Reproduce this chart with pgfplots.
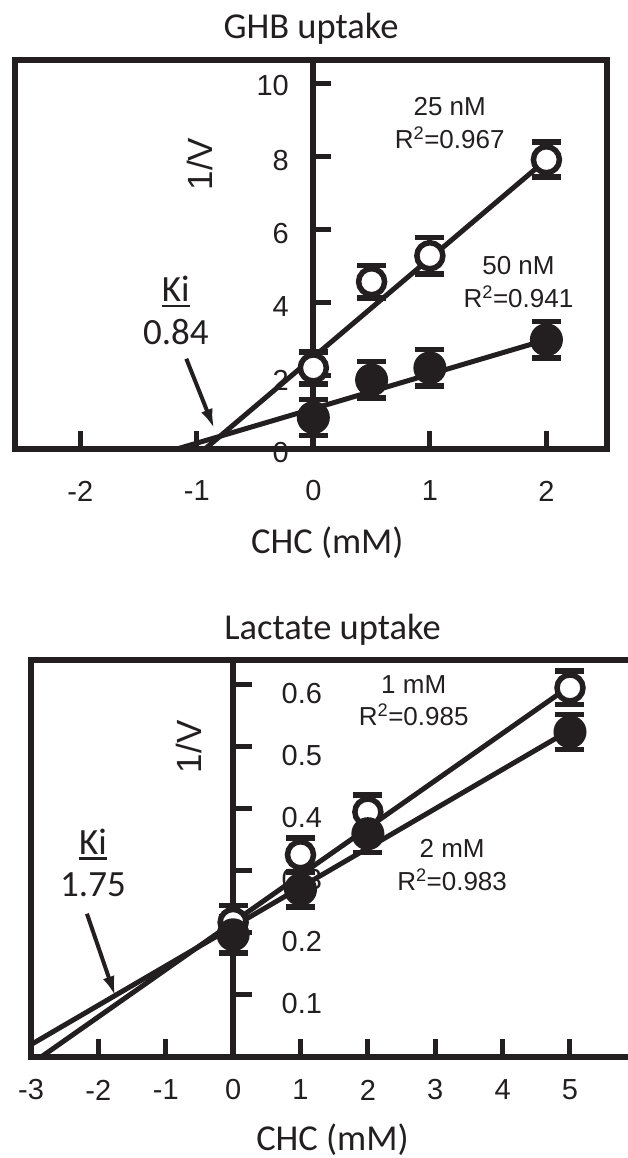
\documentclass[border=0pt]{standalone}
\usepackage{pgfplots}
\pgfplotsset{compat=1.18}
\usepackage{fontspec}
\setmainfont{Liberation Sans}
\newfontfamily\calfont{Carlito}
\usetikzlibrary{arrows.meta}
\definecolor{ink}{RGB}{35,31,32}
\newcommand{\tfont}{\fontsize{29}{29}\selectfont}
\newcommand{\afont}{\fontsize{26}{28}\selectfont}
\newcommand{\vfont}{\fontsize{35}{35}\selectfont}
\newcommand{\cfont}{\calfont\fontsize{36.5}{38}\selectfont}
\newcommand{\kfont}{\calfont\fontsize{37}{38}\selectfont}
\pgfplotsset{
  chart/.style={scale only axis, clip=false,
    axis line style={line width=6pt, ink},
    xtick pos=bottom, ytick=\empty,
    tick align=inside, major tick length=18pt,
    tick style={line width=5pt, ink},
    xticklabel style={font=\tfont, text=ink, anchor=center},
  },
  openpts/.style={only marks, mark=*, mark size=13pt,
    mark options={fill=white, draw=ink, line width=5.5pt},
    error bars/.cd, y dir=both, y explicit, error mark=-,
    error mark options={rotate=90, line width=5.5pt, mark size=14.5pt, ink},
    error bar style={line width=5pt, ink}},
  fillpts/.style={only marks, mark=*, mark size=15pt,
    mark options={fill=ink, draw=ink, line width=3pt},
    error bars/.cd, y dir=both, y explicit, error mark=-,
    error mark options={rotate=90, line width=5.5pt, mark size=14.5pt, ink},
    error bar style={line width=5pt, ink}},
  fitline/.style={line width=5pt, ink, no markers},
}
\begin{document}
\begin{tikzpicture}
\useasboundingbox (0,0) rectangle (627pt,1158pt);
% ---------------- GHB uptake ----------------
\begin{axis}[chart, width=592pt, height=389pt,
  at={(15pt,709pt)}, anchor=south west,
  xmin=-2.56, xmax=2.52, ymin=0, ymax=10.65,
  xtick={-2,-1,0,1,2}, xticklabels={-2,-1,0,1,2},
  xticklabel style={yshift=-42pt}]
\node[font=\tfont, text=ink, anchor=east] at (axis cs:0,0) [xshift=-21pt, yshift=-4pt] {0};
\node[font=\tfont, text=ink, anchor=east] at (axis cs:0,2) [xshift=-21pt, yshift=-4pt] {2};
\node[font=\tfont, text=ink, anchor=east] at (axis cs:0,4) [xshift=-21pt, yshift=-4pt] {4};
\node[font=\tfont, text=ink, anchor=east] at (axis cs:0,6) [xshift=-21pt, yshift=-4pt] {6};
\node[font=\tfont, text=ink, anchor=east] at (axis cs:0,8) [xshift=-21pt, yshift=-4pt] {8};
\node[font=\tfont, text=ink, anchor=east] at (axis cs:0,10) [xshift=-21pt, yshift=-2pt] {10};
\draw[line width=6pt, ink] (rel axis cs:0,0) -- (rel axis cs:1,0);
\draw[line width=6pt, ink] (axis cs:0,0) -- (axis cs:0,10.65);
\draw[line width=5pt, ink] (axis cs:0,2) -- (axis cs:0.155,2);
\draw[line width=5pt, ink] (axis cs:0,4) -- (axis cs:0.155,4);
\draw[line width=5pt, ink] (axis cs:0,6) -- (axis cs:0.155,6);
\draw[line width=5pt, ink] (axis cs:0,8) -- (axis cs:0.155,8);
\draw[line width=5pt, ink] (axis cs:0,10) -- (axis cs:0.155,10);
\node[font=\cfont, text=ink] at (rel axis cs:0.5,1) [yshift=31pt] {GHB uptake};
\node[font=\cfont, text=ink] at (axis cs:0.12,0) [yshift=-94pt] {CHC (mM)};
\node[font=\vfont, text=ink, rotate=90] at (axis cs:-0.97,7.8) {1/V};
\node[font=\afont, text=ink] at (axis cs:1.17,9.38) {25 nM};
\node[font=\afont, text=ink] at (axis cs:1.17,8.53) {R\textsuperscript{2}=0.967};
\node[font=\afont, text=ink] at (axis cs:1.76,5.02) {50 nM};
\node[font=\afont, text=ink] at (axis cs:1.76,4.17) {R\textsuperscript{2}=0.941};
\node[font=\kfont, text=ink, inner sep=0pt] (ki1) at (axis cs:-1.18,4.38) {Ki};
\draw[line width=2.2pt, ink] ([yshift=-4pt]ki1.base west) -- ([yshift=-4pt]ki1.base east);
\node[font=\kfont, text=ink] at (axis cs:-1.18,3.2) {0.84};
\draw[line width=4pt, ink, -{Latex[length=20pt,width=12pt]}] (axis cs:-1.09,2.47) -- (axis cs:-0.85,0.55);
\addplot[fitline] coordinates {(-0.93,0) (2,7.92)};
\addplot[fitline] coordinates {(-1.17,0) (2,2.99)};
\addplot[openpts] coordinates {(0,2.22) +- (0,0.44) (0.5,4.58) +- (0,0.45) (1,5.29) +- (0,0.5) (2,7.92) +- (0,0.48)};
\addplot[fillpts] coordinates {(0,0.86) +- (0,0.49) (0.5,1.89) +- (0,0.5) (1,2.22) +- (0,0.5) (2,2.99) +- (0,0.5)};
\end{axis}
% ---------------- Lactate uptake ----------------
\begin{axis}[chart, width=603pt, height=397pt,
  at={(31pt,101pt)}, anchor=south west,
  xmin=-3, xmax=5.95, ymin=0, ymax=0.64,
  xtick={-3,-2,-1,0,1,2,3,4,5}, xticklabels={-3,-2,-1,0,1,2,3,4,5},
  xticklabel style={yshift=-33pt}]
\node[font=\tfont, text=ink, anchor=west] at (axis cs:0,0.1) [xshift=45pt, yshift=-9pt] {0.1};
\node[font=\tfont, text=ink, anchor=west] at (axis cs:0,0.2) [xshift=45pt, yshift=-9pt] {0.2};
\node[font=\tfont, text=ink, anchor=west] at (axis cs:0,0.3) [xshift=45pt, yshift=-9pt] {0.3};
\node[font=\tfont, text=ink, anchor=west] at (axis cs:0,0.4) [xshift=45pt, yshift=-9pt] {0.4};
\node[font=\tfont, text=ink, anchor=west] at (axis cs:0,0.5) [xshift=45pt, yshift=-9pt] {0.5};
\node[font=\tfont, text=ink, anchor=west] at (axis cs:0,0.6) [xshift=45pt, yshift=-9pt] {0.6};
\draw[line width=6pt, ink] (axis cs:0,0) -- (axis cs:0,0.64);
\draw[line width=5pt, ink] (axis cs:0,0.1) -- (axis cs:0.28,0.1);
\draw[line width=5pt, ink] (axis cs:0,0.2) -- (axis cs:0.28,0.2);
\draw[line width=5pt, ink] (axis cs:0,0.3) -- (axis cs:0.28,0.3);
\draw[line width=5pt, ink] (axis cs:0,0.4) -- (axis cs:0.28,0.4);
\draw[line width=5pt, ink] (axis cs:0,0.5) -- (axis cs:0.28,0.5);
\draw[line width=5pt, ink] (axis cs:0,0.6) -- (axis cs:0.28,0.6);
\node[font=\cfont, text=ink] at (rel axis cs:0.5,1) [yshift=30pt] {Lactate uptake};
\node[font=\cfont, text=ink, inner sep=0pt] at (rel axis cs:0.5,0) [yshift=-83pt] {CHC (mM)};
\node[font=\vfont, text=ink, rotate=90] at (axis cs:-0.66,0.5) {1/V};
\node[font=\afont, text=ink] at (axis cs:2.68,0.601) {1 mM};
\node[font=\afont, text=ink] at (axis cs:2.68,0.551) {R\textsuperscript{2}=0.985};
\node[font=\afont, text=ink] at (axis cs:3.25,0.336) {2 mM};
\node[font=\afont, text=ink] at (axis cs:3.25,0.286) {R\textsuperscript{2}=0.983};
\node[font=\kfont, text=ink, inner sep=0pt] (ki2) at (axis cs:-2.08,0.347) {Ki};
\draw[line width=2.2pt, ink] ([yshift=-4pt]ki2.base west) -- ([yshift=-4pt]ki2.base east);
\node[font=\kfont, text=ink] at (axis cs:-2.08,0.277) {1.75};
\draw[line width=4pt, ink, -{Latex[length=20pt,width=12pt]}] (axis cs:-2.17,0.231) -- (axis cs:-1.75,0.098);
\addplot[fitline] coordinates {(-2.85,0) (5,0.598)};
\addplot[fitline] coordinates {(-3,0.02) (5,0.527)};
\addplot[openpts] coordinates {(0,0.217) +- (0,0.027) (1,0.326) +- (0,0.027) (2,0.395) +- (0,0.027) (5,0.595) +- (0,0.027)};
\addplot[fillpts] coordinates {(0,0.197) +- (0,0.029) (1,0.27) +- (0,0.028) (2,0.36) +- (0,0.03) (5,0.524) +- (0,0.028)};
\end{axis}
\end{tikzpicture}
\end{document}
